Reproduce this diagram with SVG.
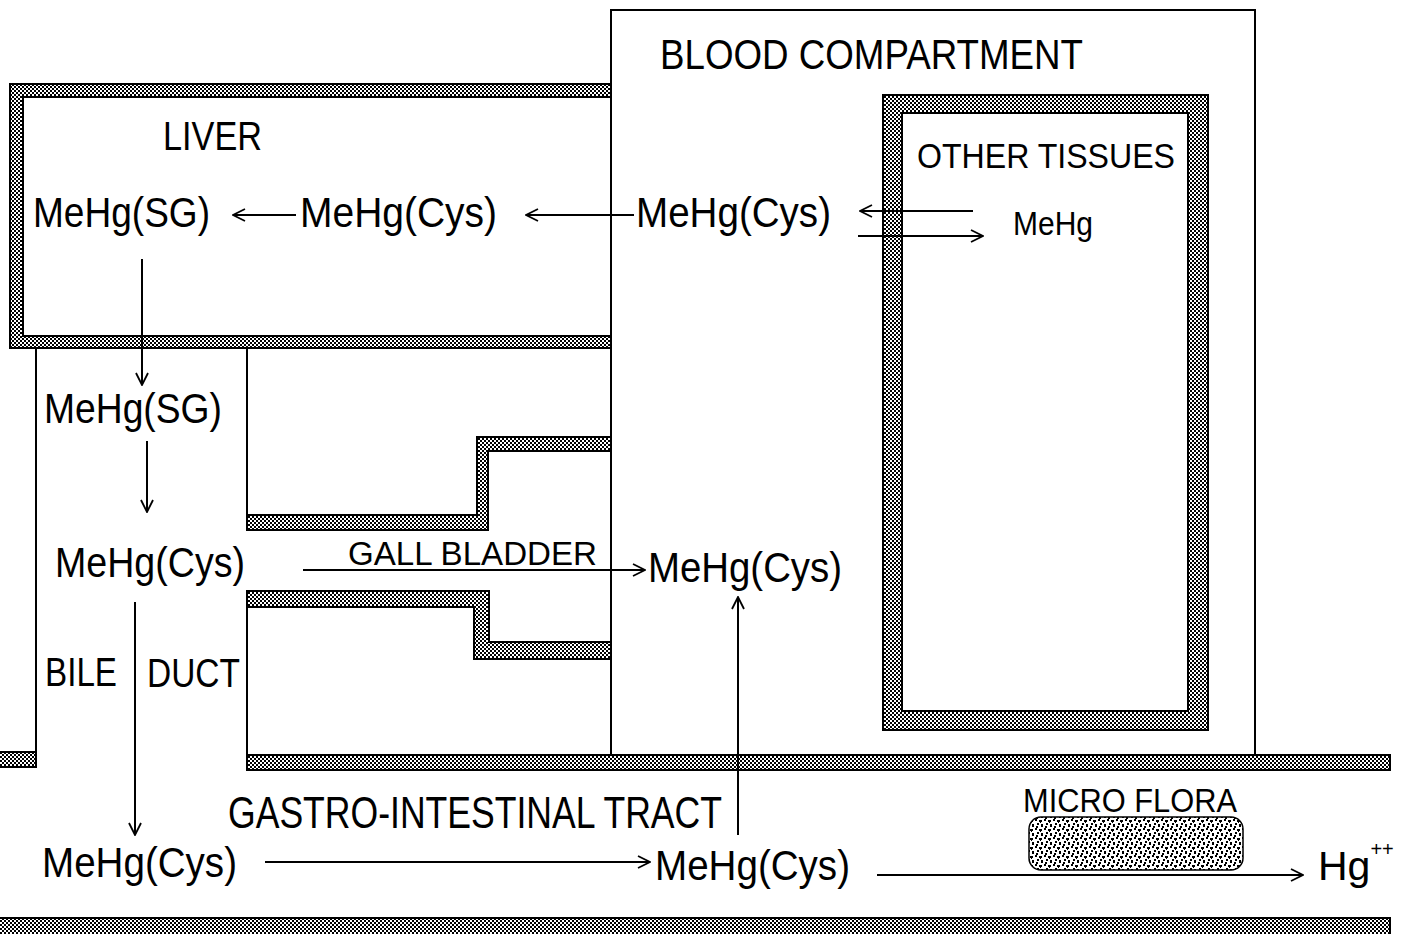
<svg xmlns="http://www.w3.org/2000/svg" width="1409" height="934" viewBox="0 0 1409 934">
<style>
  .t { font-family: "Liberation Sans", Arial, sans-serif; fill: #000; }
  .wall { fill: url(#hatch); stroke: #000; stroke-width: 2; fill-rule: evenodd; }
  .ln { fill: none; stroke: #000; stroke-width: 2; }
  .arr { fill: none; stroke: #000; stroke-width: 2; marker-end: url(#ah); }
</style>
<defs>
  <pattern id="hatch" width="4" height="4" patternUnits="userSpaceOnUse">
    <rect width="4" height="4" fill="#fff"/>
    <rect x="0" y="0" width="2" height="2" fill="#000"/>
    <rect x="2" y="2" width="2" height="2" fill="#000"/>
  </pattern>
  <pattern id="stipple" width="9" height="9" patternUnits="userSpaceOnUse">
    <rect width="9" height="9" fill="#fff"/>
    <rect x="0" y="0" width="2" height="2" fill="#000"/>
    <rect x="4" y="1" width="3" height="2" fill="#000"/>
    <rect x="2" y="4" width="2" height="2" fill="#000"/>
    <rect x="6" y="5" width="2" height="3" fill="#000"/>
    <rect x="1" y="7" width="2" height="2" fill="#000"/>
    <rect x="5" y="3" width="1" height="1" fill="#000"/>
  </pattern>
  <marker id="ah" viewBox="0 0 14 14" refX="13" refY="7" markerWidth="14" markerHeight="14" markerUnits="userSpaceOnUse" orient="auto">
    <path d="M1,1 L13,7 L1,13" fill="none" stroke="#000" stroke-width="1.8"/>
  </marker>
</defs>
<rect width="1409" height="934" fill="#fff"/>

<g id="blood-compartment">
  <rect x="611" y="10" width="644" height="745" class="ln"/>
  <text class="t" x="660" y="69" font-size="42" textLength="423" lengthAdjust="spacingAndGlyphs">BLOOD  COMPARTMENT</text>
</g>

<g id="liver">
  <path class="wall" d="M611,84 H10 V348 H611 V336 H23 V97 H611 Z"/>
  <text class="t" x="163" y="150" font-size="40" textLength="99" lengthAdjust="spacingAndGlyphs">LIVER</text>
</g>

<g id="other-tissues">
  <path class="wall" d="M883,95 H1208 V730 H883 Z M902,113 V711 H1188 V113 Z"/>
  <text class="t" x="917" y="168" font-size="35" textLength="258" lengthAdjust="spacingAndGlyphs">OTHER  TISSUES</text>
</g>

<g id="bile-duct">
  <path class="ln" d="M36,348 V767"/>
  <path class="ln" d="M247,348 V515"/>
  <path class="ln" d="M247,607 V755"/>
  <text class="t" x="45" y="686" font-size="40" textLength="72" lengthAdjust="spacingAndGlyphs">BILE</text>
  <text class="t" x="147" y="687" font-size="40" textLength="93" lengthAdjust="spacingAndGlyphs">DUCT</text>
</g>

<g id="gall-bladder">
  <path class="wall" d="M247,515 H477 V437 H611 V451 H488 V530 H247 Z"/>
  <path class="wall" d="M247,591 H489 V642 H611 V659 H474 V607 H247 Z"/>
  <text class="t" x="348" y="565" font-size="34" textLength="249" lengthAdjust="spacingAndGlyphs">GALL  BLADDER</text>
</g>

<g id="gi-tract">
  <rect class="wall" x="247" y="755" width="1143" height="15"/>
  <rect class="wall" x="-2" y="752" width="38" height="15"/>
  <rect class="wall" x="-2" y="918" width="1392" height="18"/>
  <text class="t" x="228" y="828" font-size="44" textLength="494" lengthAdjust="spacingAndGlyphs">GASTRO-INTESTINAL TRACT</text>
</g>

<g id="micro-flora">
  <rect x="1029" y="817" width="214" height="53" rx="12" ry="12" fill="url(#stipple)" stroke="#000" stroke-width="1.5"/>
  <text class="t" x="1023" y="812" font-size="33" textLength="214" lengthAdjust="spacingAndGlyphs">MICRO FLORA</text>
</g>

<g id="liver-mehg-sg">
  <text class="t" x="33" y="227" font-size="42" textLength="177" lengthAdjust="spacingAndGlyphs">MeHg(SG)</text>
</g>
<g id="liver-mehg-cys">
  <text class="t" x="300" y="227" font-size="42" textLength="197" lengthAdjust="spacingAndGlyphs">MeHg(Cys)</text>
</g>
<g id="blood-mehg-cys">
  <text class="t" x="636" y="227" font-size="42" textLength="195" lengthAdjust="spacingAndGlyphs">MeHg(Cys)</text>
</g>
<g id="tissue-mehg">
  <text class="t" x="1013" y="235" font-size="34" textLength="80" lengthAdjust="spacingAndGlyphs">MeHg</text>
</g>
<g id="bile-mehg-sg">
  <text class="t" x="44" y="423" font-size="42" textLength="178" lengthAdjust="spacingAndGlyphs">MeHg(SG)</text>
</g>
<g id="bile-mehg-cys">
  <text class="t" x="55" y="577" font-size="42" textLength="190" lengthAdjust="spacingAndGlyphs">MeHg(Cys)</text>
</g>
<g id="blood-mehg-cys-2">
  <text class="t" x="648" y="582" font-size="42" textLength="194" lengthAdjust="spacingAndGlyphs">MeHg(Cys)</text>
</g>
<g id="gi-mehg-cys-1">
  <text class="t" x="42" y="877" font-size="42" textLength="195" lengthAdjust="spacingAndGlyphs">MeHg(Cys)</text>
</g>
<g id="gi-mehg-cys-2">
  <text class="t" x="655" y="880" font-size="42" textLength="195" lengthAdjust="spacingAndGlyphs">MeHg(Cys)</text>
</g>
<g id="hg">
  <text class="t" x="1318" y="880" font-size="41">Hg<tspan font-size="20" dy="-24">++</tspan></text>
</g>

<g id="connectors">
  <path class="arr" d="M296,215 H233"/>
  <path class="arr" d="M634,215 H526"/>
  <path class="arr" d="M973,211 H860"/>
  <path class="arr" d="M858,236 H983"/>
  <path class="arr" d="M142,259 V385"/>
  <path class="arr" d="M147,441 V512"/>
  <path class="arr" d="M303,570 H645"/>
  <path class="arr" d="M135,602 V835"/>
  <path class="arr" d="M738,835 V597"/>
  <path class="arr" d="M265,862 H650"/>
  <path class="arr" d="M877,875 H1303"/>
</g>
</svg>
